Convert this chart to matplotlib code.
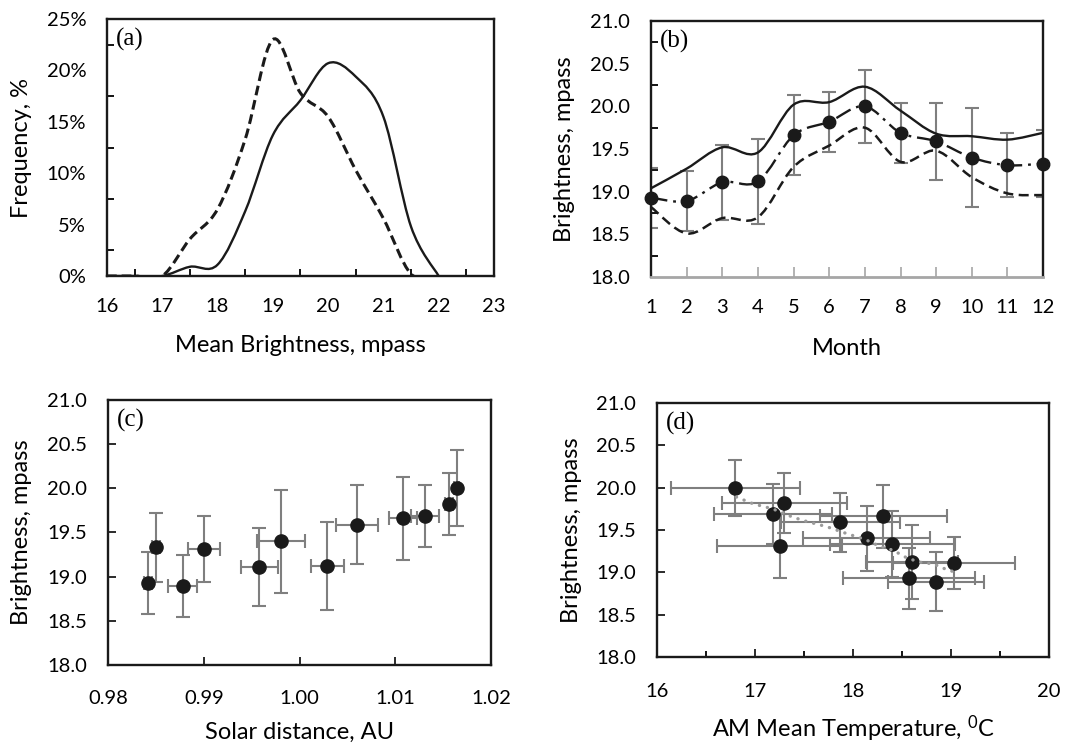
import numpy as np
import matplotlib
matplotlib.use("Agg")
import matplotlib.pyplot as plt
from matplotlib.path import Path
from matplotlib.patches import PathPatch
from matplotlib.ticker import FixedLocator, FormatStrFormatter

# === DATA ===
# (a) frequency distributions of mean brightness
BRIGHT_BINS = [16.0, 16.5, 17.0, 17.5, 18.0, 18.5, 19.0, 19.5, 20.0, 20.5, 21.0, 21.5, 22.0]
FREQ_SOLID = [0, 0, 0, 0.9, 1.1, 6.3, 13.7, 17.1, 20.7, 19.4, 15.5, 4.8, 0]
FREQ_DASHED = [0, 0, 0, 3.6, 6.5, 13.3, 23.0, 17.8, 15.5, 10.3, 5.6, 0.2, 0]

# (b) monthly brightness
MONTHS = [1, 2, 3, 4, 5, 6, 7, 8, 9, 10, 11, 12]
B_MEAN = [18.93, 18.89, 19.11, 19.12, 19.66, 19.82, 20.00, 19.69, 19.59, 19.40, 19.31, 19.33]
B_ERR = [0.35, 0.35, 0.44, 0.50, 0.47, 0.35, 0.43, 0.35, 0.45, 0.58, 0.375, 0.39]
B_UPPER = [19.04, 19.27, 19.52, 19.46, 20.02, 20.05, 20.23, 19.95, 19.68, 19.65, 19.61, 19.69]
B_LOWER = [18.82, 18.51, 18.69, 18.70, 19.29, 19.54, 19.75, 19.35, 19.48, 19.17, 18.98, 18.96]

# (c) solar distance per month (Jan..Dec)
SOLAR_DIST = [0.9842, 0.9878, 0.9958, 1.0029, 1.0108, 1.0156, 1.0164, 1.0131, 1.0060, 0.9981, 0.9900, 0.9850]
SOLAR_DIST_ERR = [0.0004, 0.0015, 0.0019, 0.0017, 0.0015, 0.0004, 0.0003, 0.0015, 0.0022, 0.0025, 0.0017, 0.0004]

# (d) AM mean temperature per month (Jan..Dec)
TEMP = [18.57, 18.85, 19.03, 18.60, 18.31, 17.30, 16.80, 17.18, 17.87, 18.14, 17.25, 18.40]
TEMP_ERR = [0.67, 0.49, 0.62, 0.47, 0.65, 0.64, 0.66, 0.60, 0.61, 0.65, 0.64, 0.64]
D_BRIGHT_ERR = [0.36, 0.35, 0.31, 0.44, 0.37, 0.35, 0.33, 0.35, 0.35, 0.38, 0.38, 0.39]
TREND_X = [16.81, 16.98, 17.18, 17.39, 17.53, 17.73, 17.93, 18.12, 18.27, 18.41, 18.55, 18.68, 18.82, 18.94, 19.02]
TREND_Y = [19.89, 19.81, 19.75, 19.65, 19.60, 19.54, 19.46, 19.39, 19.31, 19.26, 19.17, 19.12, 19.10, 19.04, 19.01]

# === STYLE ===
plt.rcParams["font.family"] = ["Lato", "DejaVu Sans"]
plt.rcParams["mathtext.fontset"] = "custom"
plt.rcParams["mathtext.rm"] = "Lato"
TICK_FS = 14.5
LABEL_FS = 17
GREY = "#7f7f7f"
DARK = "#1a1a1a"
XPAD = 16
YPAD = 15


def smooth_path(x, y):
    # Excel-like smoothed line: cubic Bezier segments with Catmull-Rom controls
    pts = np.column_stack([x, y]).astype(float)
    n = len(pts)
    verts = [pts[0]]
    codes = [Path.MOVETO]
    for i in range(n - 1):
        p0 = pts[i - 1] if i > 0 else pts[i]
        p1, p2 = pts[i], pts[i + 1]
        p3 = pts[i + 2] if i + 2 < n else pts[i + 1]
        verts += [p1 + (p2 - p0) / 6, p2 - (p3 - p1) / 6, p2]
        codes += [Path.CURVE4] * 3
    return Path(verts, codes)


def add_smooth(ax, x, y, **kw):
    patch = PathPatch(smooth_path(x, y), fill=False, edgecolor=DARK, **kw)
    ax.add_patch(patch)


def frame(ax, lw=1.7):
    for s in ax.spines.values():
        s.set_linewidth(lw)
        s.set_color(DARK)
    ax.tick_params(labelsize=TICK_FS, direction="in", color=DARK)


def labels(ax, xlabel, ylabel, xy, yx, tag):
    ax.set_xlabel(xlabel, fontsize=LABEL_FS)
    ax.set_ylabel(ylabel, fontsize=LABEL_FS)
    ax.xaxis.set_label_coords(0.5, xy)
    ax.yaxis.set_label_coords(yx, 0.5)
    ax.text(0.022, 0.965, tag, transform=ax.transAxes, family="Liberation Serif",
            fontsize=18, va="top", ha="left")


fig = plt.figure(figsize=(10.75, 7.44), dpi=100)

# === (a) ===
ax = fig.add_axes([0.0995, 0.629, 0.360, 0.3454])
add_smooth(ax, BRIGHT_BINS, FREQ_SOLID, lw=1.7, linestyle="-")
add_smooth(ax, BRIGHT_BINS, FREQ_DASHED, lw=2.2, linestyle=(0, (3.2, 1.6)))
ax.set_xlim(16, 23)
ax.set_ylim(0, 25)
frame(ax)
ax.xaxis.set_major_locator(FixedLocator(range(16, 24)))
ax.yaxis.set_major_locator(FixedLocator([0, 5, 10, 15, 20, 25]))
ax.set_yticklabels([f"{v}%" for v in [0, 5, 10, 15, 20, 25]])
ax.xaxis.set_minor_locator(FixedLocator(np.arange(16.5, 23, 1.0)))
ax.yaxis.set_minor_locator(FixedLocator(np.arange(2.5, 25, 5.0)))
ax.tick_params(axis="x", which="major", length=0, pad=XPAD)
ax.tick_params(axis="y", which="major", length=0, pad=YPAD)
ax.tick_params(which="minor", length=5, width=1.3, direction="in")
labels(ax, "Mean Brightness, mpass", "Frequency, %", -0.23, -0.194, "(a)")

# === (b) ===
ax = fig.add_axes([0.6056, 0.6277, 0.3647, 0.344])
ax.errorbar(MONTHS, B_MEAN, yerr=B_ERR, fmt="none", ecolor=GREY, elinewidth=1.5,
            capsize=5, capthick=1.5, zorder=2)
add_smooth(ax, MONTHS, B_UPPER, lw=1.7, linestyle="-", zorder=3)
add_smooth(ax, MONTHS, B_LOWER, lw=1.8, linestyle=(0, (4, 2.2)), zorder=3)
add_smooth(ax, MONTHS, B_MEAN, lw=1.7, linestyle=(0, (7, 2.5, 1.2, 2.5)), zorder=3)
ax.plot(MONTHS, B_MEAN, "o", color=DARK, ms=9, zorder=4, clip_on=False)
ax.set_xlim(1, 12)
ax.set_ylim(18, 21)
frame(ax)
ax.spines["bottom"].set_color("#a6a6a6")
ax.spines["bottom"].set_linewidth(2)
ax.xaxis.set_major_locator(FixedLocator(MONTHS))
ax.yaxis.set_major_locator(FixedLocator(np.arange(18, 21.01, 0.5)))
ax.yaxis.set_major_formatter(FormatStrFormatter("%.1f"))
ax.yaxis.set_minor_locator(FixedLocator(np.arange(18.25, 21, 0.5)))
ax.tick_params(axis="x", which="major", length=7, width=1.2, color="#a6a6a6", pad=XPAD)
ax.tick_params(axis="y", which="major", length=0, pad=YPAD)
ax.tick_params(axis="y", which="minor", length=5, width=1.3, direction="in")
labels(ax, "Month", "Brightness, mpass", -0.238, -0.194, "(b)")

# === (c) ===
ax = fig.add_axes([0.1005, 0.1062, 0.3563, 0.3562])
ax.errorbar(SOLAR_DIST, B_MEAN, xerr=SOLAR_DIST_ERR, yerr=B_ERR, fmt="o", color=DARK,
            ms=9.5, ecolor=GREY, elinewidth=1.5, capsize=5, capthick=1.5)
ax.set_xlim(0.98, 1.02)
ax.set_ylim(18, 21)
frame(ax)
ax.xaxis.set_major_locator(FixedLocator([0.98, 0.99, 1.00, 1.01, 1.02]))
ax.xaxis.set_major_formatter(FormatStrFormatter("%.2f"))
ax.yaxis.set_major_locator(FixedLocator(np.arange(18, 21.01, 0.5)))
ax.yaxis.set_major_formatter(FormatStrFormatter("%.1f"))
ax.tick_params(which="major", length=6, width=1.3)
ax.tick_params(axis="x", pad=XPAD + 2)
ax.tick_params(axis="y", pad=YPAD)
labels(ax, "Solar distance, AU", "Brightness, mpass", -0.215, -0.198, "(c)")

# === (d) ===
ax = fig.add_axes([0.6112, 0.1169, 0.3647, 0.3414])
ax.errorbar(TEMP, B_MEAN, xerr=TEMP_ERR, yerr=D_BRIGHT_ERR, fmt="o", color=DARK,
            ms=9.5, ecolor=GREY, elinewidth=1.5, capsize=5, capthick=1.5, zorder=2)
ax.plot(TREND_X, TREND_Y, color="#9a9a9a", lw=2.4, linestyle=(0, (0.05, 2.4)),
        dash_capstyle="round", zorder=3)
ax.set_xlim(16, 20)
ax.set_ylim(18, 21)
frame(ax)
ax.xaxis.set_major_locator(FixedLocator([16, 17, 18, 19, 20]))
ax.xaxis.set_minor_locator(FixedLocator([16.5, 17.5, 18.5, 19.5]))
ax.yaxis.set_major_locator(FixedLocator(np.arange(18, 21.01, 0.5)))
ax.yaxis.set_major_formatter(FormatStrFormatter("%.1f"))
ax.tick_params(which="major", length=6, width=1.3)
ax.tick_params(axis="x", pad=XPAD + 3)
ax.tick_params(axis="y", pad=YPAD)
ax.tick_params(which="minor", length=4, width=1.3, direction="in")
labels(ax, "AM Mean Temperature, $\\mathregular{^0}$C", "Brightness, mpass", -0.222, -0.191, "(d)")

fig.savefig("out.png", dpi=100)
